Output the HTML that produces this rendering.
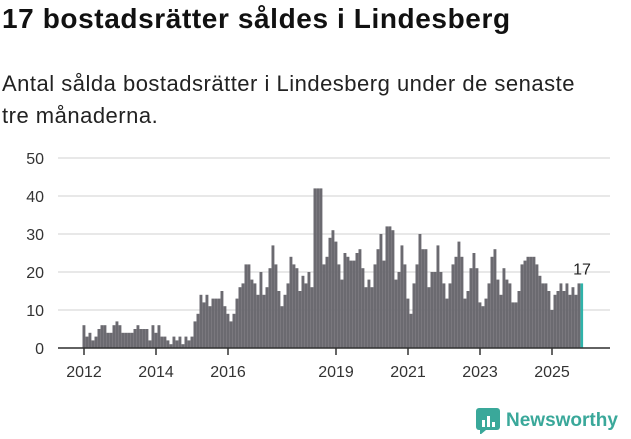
<!DOCTYPE html>
<html><head><meta charset="utf-8">
<style>
body{margin:0;width:631px;height:439px;background:#fff;font-family:"Liberation Sans",sans-serif;overflow:hidden;position:relative}
h1{position:absolute;left:2px;top:3px;margin:0;font-size:28px;letter-spacing:0.6px;font-weight:bold;color:#111;white-space:nowrap}
p{position:absolute;left:2px;top:68px;margin:0;font-size:22px;letter-spacing:0.5px;line-height:32px;color:#222;width:590px}
svg{position:absolute;left:0;top:0}
</style></head><body>
<h1>17 bostadsrätter såldes i Lindesberg</h1>
<p>Antal sålda bostadsrätter i Lindesberg under de senaste tre månaderna.</p>
<svg id="c" width="631" height="439"></svg>
<div style="position:absolute;left:476px;top:408px;display:flex;align-items:center">
<svg width="24" height="26" style="position:static"><rect x="0" y="0" width="24" height="22" rx="3" fill="#3aa89a"/><polygon points="4,22 10,22 4,27" fill="#3aa89a"/><rect x="6" y="12" width="3" height="7" fill="#fff"/><rect x="11" y="8" width="3" height="11" fill="#fff"/><rect x="16" y="14" width="3" height="5" fill="#fff"/></svg>
<span style="color:#3aa89a;font-weight:bold;font-size:19px;margin-left:6px">Newsworthy</span></div>
<script>
const values=[6,3,4,2,3,5,6,6,4,4,6,7,6,4,4,4,4,5,6,5,5,5,2,6,4,6,3,3,2,1,3,2,3,1,3,2,3,7,9,14,12,14,11,13,13,13,15,11,9,7,9,13,16,17,22,22,18,17,14,20,14,16,21,27,22,15,11,14,17,24,22,21,15,19,17,20,16,42,42,42,22,24,29,31,28,22,18,25,24,23,23,25,26,21,16,18,16,22,26,30,23,32,32,31,18,20,27,22,13,9,17,22,30,26,26,16,20,20,27,20,17,13,17,22,24,28,24,13,15,21,25,21,12,11,13,17,24,26,18,14,21,18,17,12,12,15,22,23,24,24,24,22,19,17,17,15,10,14,15,17,15,17,14,16,14,17,17];
const yTicks=[0,10,20,30,40,50];
const xTickLabels=["2012","2014","2016","2019","2021","2023","2025"];
const xTickIndex=[0,24,48,84,108,132,156];
const NS="http://www.w3.org/2000/svg";
const svg=document.getElementById('c');
const y=v=>348-v*3.8;
const x=i=>84+3*i;
function mk(t,a){const e=document.createElementNS(NS,t);for(const k in a)e.setAttribute(k,a[k]);svg.appendChild(e);return e;}
yTicks.forEach(t=>{
 const g=mk('line',{x1:58,x2:610,y1:y(t),y2:y(t),stroke:'#e0e0e0','stroke-width':1.5});
 
 
 const l=mk('text',{x:44,y:y(t)+6,'text-anchor':'end','font-size':16,fill:'#333'});
 l.textContent=t;
 
 
});
values.forEach((v,i)=>{
 const last=i===values.length-1;
 const r=mk('rect',{x:x(i)-1.5,y:y(v),width:last?2.6:2.9,height:v*3.8,fill:last?'#2fb3aa':'#6b6a70'});
 
 
});
const ax=mk('line',{x1:58,x2:610,y1:348,y2:348,stroke:'#333','stroke-width':1.5});


xTickLabels.forEach((lab,k)=>{
 const xi=x(xTickIndex[k]);
 const t=mk('line',{x1:xi,x2:xi,y1:348,y2:355,stroke:'#333','stroke-width':1.5});
 
 
 const l=mk('text',{x:xi,y:377,'text-anchor':'middle','font-size':16,fill:'#333'});
 l.textContent=lab;
 
 
});
const li=values.length-1;
const vl=mk('text',{x:x(li),y:y(values[li])-9,'text-anchor':'middle','font-size':16,fill:'#222'});
vl.textContent=values[li];


</script>
</body></html>
